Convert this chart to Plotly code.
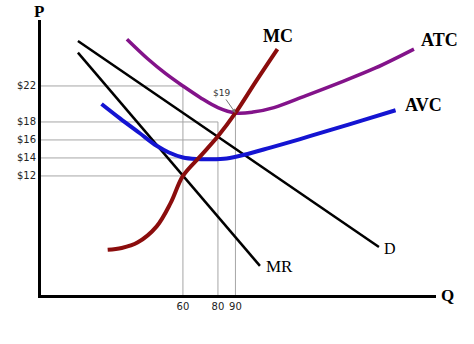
import plotly.graph_objects as go

# ---- curve data (quantity, price) ----
mc_q = [17, 25, 34, 45, 53, 60, 70, 80, 90, 102, 114]
mc_p = [3.8, 4.0, 4.6, 6.4, 9.0, 12.0, 14.2, 16.4, 19.0, 22.6, 26.1]

atc_q = [28, 40, 50, 60, 70, 80, 90, 100, 112, 130, 150, 170, 192]
atc_p = [27.2, 25.0, 23.4, 22.0, 20.7, 19.6, 19.0, 19.1, 19.6, 20.9, 22.4, 24.0, 26.1]

avc_q = [13.5, 24, 35, 45, 52, 60, 68, 76, 85, 95, 110, 127, 144, 163, 181.5]
avc_p = [20.0, 18.4, 16.8, 15.35, 14.6, 14.05, 13.87, 13.85, 13.95, 14.35, 15.15, 16.1, 17.1, 18.2, 19.3]

d_q = [0, 172]
d_p = [27.0, 4.1]

mr_q = [0, 104]
mr_p = [25.7, 2.0]

# ---- reference levels ----
price_ticks = [22, 18, 16, 14, 12]
price_labels = ["$22", "$18", "$16", "$14", "$12"]
price_guide_q = [60, 80, 80, 80, 60]

qty_ticks = [60, 80, 90]
qty_labels = ["60", "80", "90"]
qty_guide_p = [22, 18, 19]

atc_min_q, atc_min_p = 90, 19

X_RANGE = [-21.1, 204.6]
Y_RANGE = [-1.23, 29.33]

fig = go.Figure()

# thin grey guide lines
for p, q in zip(price_ticks, price_guide_q):
    fig.add_trace(go.Scatter(x=[X_RANGE[0], q], y=[p, p], mode="lines",
                             line=dict(color="#a6a6a6", width=1), hoverinfo="skip"))
for q, p in zip(qty_ticks, qty_guide_p):
    fig.add_trace(go.Scatter(x=[q, q], y=[Y_RANGE[0], p], mode="lines",
                             line=dict(color="#a6a6a6", width=1), hoverinfo="skip"))

# demand and marginal revenue
fig.add_trace(go.Scatter(x=d_q, y=d_p, mode="lines", line=dict(color="black", width=2.5)))
fig.add_trace(go.Scatter(x=mr_q, y=mr_p, mode="lines", line=dict(color="black", width=2.5)))

# cost curves
fig.add_trace(go.Scatter(x=avc_q, y=avc_p, mode="lines",
                         line=dict(color="#1414d2", width=4, shape="spline", smoothing=1.0)))
fig.add_trace(go.Scatter(x=atc_q, y=atc_p, mode="lines",
                         line=dict(color="#83138a", width=3.5, shape="spline", smoothing=1.0)))
fig.add_trace(go.Scatter(x=mc_q, y=mc_p, mode="lines",
                         line=dict(color="#8b0d0d", width=4, shape="spline", smoothing=1.0)))

serif = "Liberation Serif"
ann = [
    dict(x=114.3, y=27.6, text="<b>MC</b>", size=18),
    dict(x=1.0076, y=0.927, xref="paper", yref="paper", text="<b>ATC</b>", size=18),
    dict(x=197.7, y=19.9, text="<b>AVC</b>", size=18),
    dict(x=178.3, y=3.9, text="D", size=16),
    dict(x=115.4, y=1.9, text="MR", size=17),
    dict(x=-0.005, y=1.03, xref="paper", yref="paper", text="<b>P</b>", size=17),
    dict(x=1.028, y=0.0, xref="paper", yref="paper", text="<b>Q</b>", size=17),
]
for a in ann:
    size = a.pop("size")
    fig.add_annotation(xref=a.pop("xref", "x"), yref=a.pop("yref", "y"),
                       showarrow=False, xanchor="center", yanchor="middle",
                       font=dict(family=serif, size=size, color="black"), **a)

# label for the ATC minimum with a small pointer
fig.add_annotation(x=atc_min_q, y=atc_min_p, xref="x", yref="y", text="$19",
                   showarrow=True, arrowhead=2, arrowsize=0.8, arrowwidth=1,
                   arrowcolor="#777777", ax=-14, ay=-20,
                   font=dict(family="DejaVu Sans", size=9, color="#333333"))

fig.update_layout(
    width=474, height=344,
    margin=dict(l=41, r=38, t=20, b=49),
    paper_bgcolor="white", plot_bgcolor="white",
    showlegend=False,
    xaxis=dict(range=X_RANGE, showgrid=False, zeroline=False,
               showline=True, linecolor="black", linewidth=3,
               tickmode="array", tickvals=qty_ticks, ticktext=qty_labels,
               ticks="", tickfont=dict(family="DejaVu Sans", size=10, color="#222222")),
    yaxis=dict(range=Y_RANGE, showgrid=False, zeroline=False,
               showline=True, linecolor="black", linewidth=3,
               tickmode="array", tickvals=price_ticks, ticktext=price_labels,
               ticks="", tickfont=dict(family="DejaVu Sans", size=10, color="#222222")),
)

fig.write_html("out.html")
